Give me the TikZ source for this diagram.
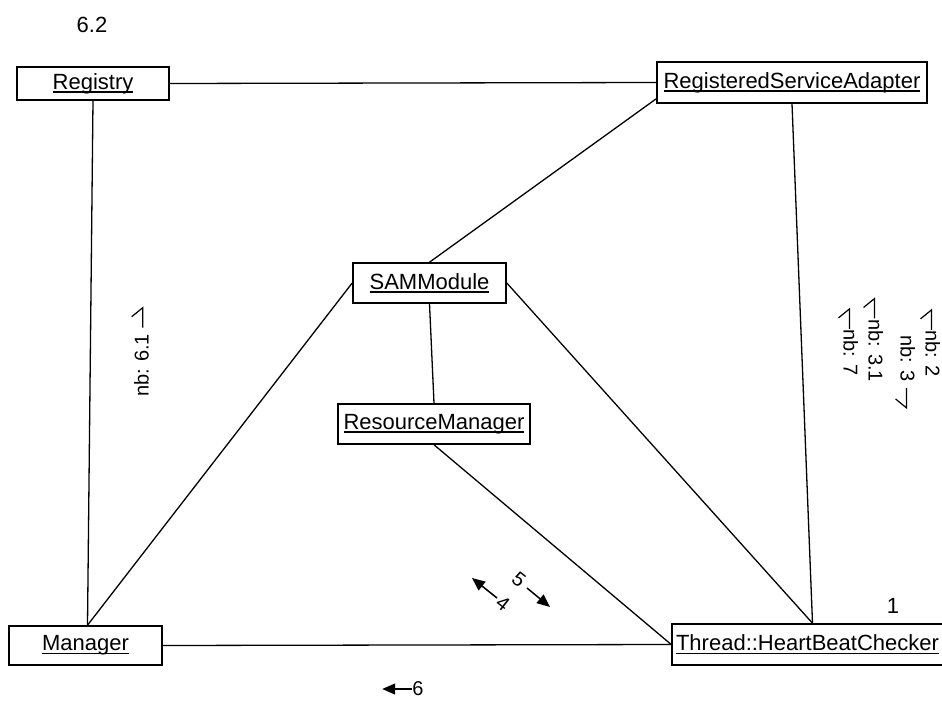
\documentclass[tikz,border=0pt]{standalone}
\usepackage{fontspec}
\setmainfont{Liberation Sans}
\usetikzlibrary{arrows.meta,calc}
% underlined object name with the rule at a fixed depth
\newcommand{\uname}[1]{\leavevmode\setbox0\hbox{#1}\rlap{\rule[-3.5pt]{\wd0}{1.4pt}}\box0}
% half arrowheads used in the link message labels
\newcommand{\hrpLd}{\tikz[baseline=0pt]\draw[line width=1.2pt] (20pt,6pt) -- (0pt,6pt) -- (9pt,-5pt);}
\newcommand{\hrpRd}{\tikz[baseline=0pt]\draw[line width=1.2pt] (0pt,6pt) -- (20pt,6pt) -- (11pt,-5pt);}
\newcommand{\hrpRu}{\tikz[baseline=0pt]\draw[line width=1.2pt] (0pt,6pt) -- (20pt,6pt) -- (11pt,17pt);}
\begin{document}
\begin{tikzpicture}[x=1pt,y=-1pt,
  obj/.style={draw, line width=1.6pt, inner sep=0pt, minimum height=40pt,
              font=\fontsize{22}{26}\selectfont},
  link/.style={line width=1.3pt},
  msg/.style={line width=1.5pt, -{Triangle[length=13pt,width=11pt]}},
  lbl/.style={inner sep=0pt, font=\fontsize{20}{24}\selectfont},
  num/.style={inner sep=0pt, font=\fontsize{22}{26}\selectfont},
]
\useasboundingbox (0,0) rectangle (942,703);

% objects
\node[obj, minimum width=152pt, minimum height=33pt] (reg) at (93,83.5) {\uname{Registry}};
\node[obj, minimum width=270pt, minimum height=41pt] (rsa) at (792,82.5) {\uname{RegisteredServiceAdapter}};
\node[obj, minimum width=153pt] (sam) at (429.5,283) {\uname{SAMModule}};
\node[obj, minimum width=192pt] (rm)  at (434,424) {\uname{ResourceManager}};
\node[obj, minimum width=153pt, minimum height=39pt] (man) at (85.5,645.5) {\uname{Manager}};
\node[obj, minimum width=271pt, minimum height=41pt] (thr) at (807.5,644.5) {\uname{Thread::HeartBeatChecker}};

% links
\draw[link] (reg.east) -- (rsa.west);
\draw[link] (reg.south) -- ([xshift=2pt]man.north);
\draw[link] (sam.west) -- ([xshift=2pt]man.north);
\draw[link] (sam.north) -- ([yshift=5pt]rsa.south west);
\draw[link] (rsa.south) -- ([xshift=5pt]thr.north);
\draw[link] (sam.east) -- ([xshift=5pt]thr.north);
\draw[link] (sam.south) -- (rm.north);
\draw[link] (rm.south) -- (thr.west);
\draw[link] (man.east) -- (thr.west);

% sequence numbers and message labels
\node[num] (n62) at (92,25) {6.2};
\node[num] (n1) at (893,606) {1};
\node[lbl, rotate=90]  (m61) at (140,352) {nb: 6.1 \hrpRu};
\node[lbl, rotate=-90] (m7)  at (848,342) {\hrpLd nb: 7};
\node[lbl, rotate=-90] (m31) at (873,340) {\hrpLd nb: 3.1};
\node[lbl, rotate=-90] (m3)  at (905,372) {nb: 3 \hrpRd};
\node[lbl, rotate=-90] (m2)  at (930,343) {\hrpLd nb: 2};

% message arrows
\node[lbl, rotate=-38] (l4) at (503,603) {4};
\draw[msg] ($(l4.center)+(-6,-5)$) -- ++(-25,-20);
\node[lbl, rotate=-38] (l5) at (519,580) {5};
\draw[msg] ($(l5.center)+(8,8)$) -- ++(23,19);
\node[lbl] (l6) at (418,689) {6};
\draw[msg] (l6.west) -- ++(-30,0);
\end{tikzpicture}
\end{document}
